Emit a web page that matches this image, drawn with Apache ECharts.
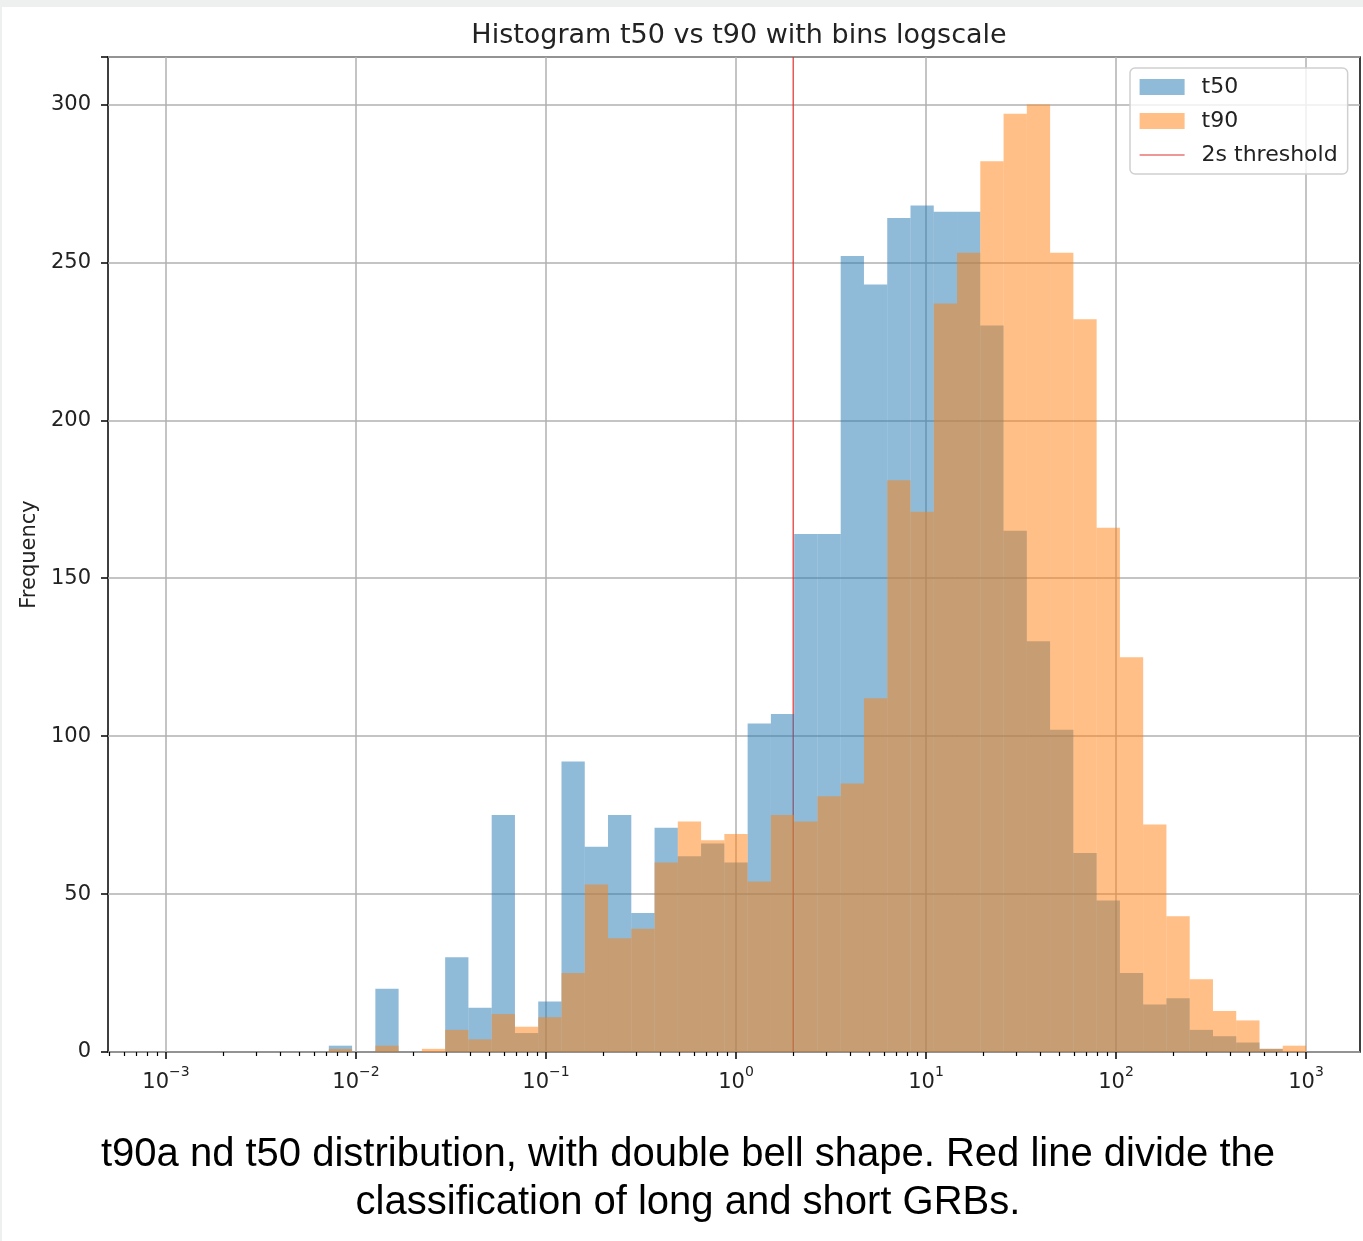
<!DOCTYPE html>
<html>
<head>
<meta charset="utf-8">
<title>Histogram t50 vs t90</title>
<script src="https://cdn.jsdelivr.net/npm/echarts@6/dist/echarts.min.js"></script>
<style>
    html, body { margin: 0; padding: 0; background: #eef0f0; }
    #chart { width: 1363px; height: 1241px; }
</style>
</head>
<body>
<div id="chart"></div>
<script>
// bins = np.logspace(-3, 3, 50) -> 49 bins, kept in log10 space
const binStart = -3;
const binEnd = 3;
const binCount = 49;

// counts per bin (bin 0 .. 48)
const t50Counts = [
    0, 0, 0, 0, 0, 0, 0, 2, 0, 20,
    0, 0, 30, 14, 75, 6, 16, 92, 65, 75,
    44, 71, 62, 66, 60, 104, 107, 164, 164, 252,
    243, 264, 268, 266, 266, 230, 165, 130, 102, 63,
    48, 25, 15, 17, 7, 5, 3, 1, 0
];
const t90Counts = [
    0, 0, 0, 0, 0, 0, 0, 1, 0, 2,
    0, 1, 7, 4, 12, 8, 11, 25, 53, 36,
    39, 60, 73, 67, 69, 54, 75, 73, 81, 85,
    112, 181, 171, 237, 253, 282, 297, 300, 253, 232,
    166, 125, 72, 43, 23, 13, 10, 1, 2
];

const thresholdSeconds = 2;
const xMajorTicks = [-3, -2, -1, 0, 1, 2, 3];
const yTicks = [0, 50, 100, 150, 200, 250, 300];

const xMin = -3.305;
const xMax = 3.284;
const yMax = 315;

const binWidth = (binEnd - binStart) / binCount;

function histData(counts) {
    return counts.map((c, i) => [binStart + i * binWidth, binStart + (i + 1) * binWidth, c]);
}

// minor log ticks: 2..9 x 10^n
const xMinorTicks = [];
for (let n = -4; n <= 3; n++) {
    for (let m = 2; m <= 9; m++) {
        const v = n + Math.log10(m);
        if (v > xMin && v < xMax) xMinorTicks.push(v);
    }
}

function supLabel(v) {
    const e = v < 0 ? '\u2212' + Math.abs(v) : String(v);
    return '{b|10}{s|' + e + '}';
}

function histSeries(name, counts, color) {
    return {
        name,
        type: 'custom',
        xAxisIndex: 0,
        encode: { x: [0, 1], y: 2 },
        data: histData(counts),
        itemStyle: { color, opacity: 0.5 },
        renderItem: (params, api) => {
            if (!api.value(2)) return null;
            const top = api.coord([api.value(0), api.value(2)]);
            const bottom = api.coord([api.value(1), 0]);
            return {
                type: 'rect',
                shape: {
                    x: top[0],
                    y: top[1],
                    width: bottom[0] - top[0],
                    height: bottom[1] - top[1]
                },
                style: { fill: color, opacity: 0.5 }
            };
        }
    };
}

const chart = echarts.init(document.getElementById('chart'), null, { renderer: 'canvas' });

const tickFont = 'DejaVu Sans';
const thresholdX = Math.log10(thresholdSeconds);
const thresholdColor = '#e0312f';

const option = {
    backgroundColor: '#eef0f0',
    animation: false,
    graphic: [
        {
            type: 'rect',
            z: -10,
            shape: { x: 2, y: 7, width: 1361, height: 1234 },
            style: { fill: '#ffffff' }
        },
        {
            type: 'text',
            x: 688,
            y: 1131,
            style: {
                text: 't90a nd t50 distribution, with double bell shape. Red line divide the\nclassification of long and short GRBs.',
                font: '40px "Liberation Sans", Arial, sans-serif',
                fill: '#000',
                align: 'center',
                verticalAlign: 'top',
                lineHeight: 48
            }
        }
    ],
    title: {
        text: 'Histogram t50 vs t90 with bins logscale',
        left: 734,
        textAlign: 'center',
        top: 17,
        textStyle: {
            fontFamily: tickFont,
            fontSize: 27,
            fontWeight: 'normal',
            color: '#222'
        }
    },
    legend: {
        orient: 'vertical',
        left: 1130,
        top: 68,
        padding: [8, 10, 8, 9],
        itemWidth: 45,
        itemHeight: 16,
        itemGap: 12,
        backgroundColor: 'rgba(255,255,255,0.8)',
        borderColor: '#d0d0d0',
        borderWidth: 1.5,
        borderRadius: 5,
        textStyle: {
            fontFamily: tickFont,
            fontSize: 22,
            color: '#222',
            padding: [0, 0, 0, 12]
        },
        data: [
            { name: 't50', icon: 'rect', itemStyle: { color: '#8fbbd9', opacity: 1 } },
            { name: 't90', icon: 'rect', itemStyle: { color: '#ffbf86', opacity: 1 } },
            {
                name: '2s threshold',
                itemStyle: { color: 'rgba(0,0,0,0)', borderColor: 'rgba(0,0,0,0)', opacity: 0 },
                lineStyle: { color: thresholdColor, width: 1.2, opacity: 1 }
            }
        ]
    },
    grid: {
        left: 108,
        right: 3,
        top: 57,
        bottom: 189,
        show: true,
        borderColor: '#000',
        borderWidth: 1.5,
        backgroundColor: 'transparent'
    },
    xAxis: [
        {
            type: 'value',
            min: xMin,
            max: xMax,
            axisLine: { show: false, onZero: false },
            axisTick: {
                show: true,
                customValues: xMajorTicks,
                length: 7,
                lineStyle: { color: '#000', width: 1.5 }
            },
            axisLabel: {
                customValues: xMajorTicks,
                margin: 13,
                formatter: supLabel,
                rich: {
                    b: { fontFamily: tickFont, fontSize: 21, color: '#222', lineHeight: 28, verticalAlign: 'bottom' },
                    s: { fontFamily: tickFont, fontSize: 14, color: '#222', verticalAlign: 'top' }
                }
            },
            splitLine: { show: true, lineStyle: { color: '#b0b0b0', width: 1.5 } }
        },
        {
            type: 'value',
            min: xMin,
            max: xMax,
            position: 'bottom',
            axisLine: { show: false, onZero: false },
            axisLabel: { show: false },
            splitLine: { show: false },
            axisTick: {
                show: true,
                customValues: xMinorTicks,
                length: 4,
                lineStyle: { color: '#000', width: 1.2 }
            }
        }
    ],
    yAxis: {
        type: 'value',
        min: 0,
        max: yMax,
        interval: 50,
        name: 'Frequency',
        nameLocation: 'middle',
        nameGap: 68,
        nameTextStyle: { fontFamily: tickFont, fontSize: 21, color: '#222' },
        axisLine: { show: false, onZero: false },
        axisTick: { show: true, length: 7, lineStyle: { color: '#000', width: 1.5 } },
        axisLabel: {
            margin: 17,
            fontFamily: tickFont,
            fontSize: 21,
            color: '#222',
            formatter: v => (yTicks.includes(v) ? String(v) : '')
        },
        splitLine: { show: true, lineStyle: { color: '#b0b0b0', width: 1.5 } }
    },
    series: [
        {
            name: '2s threshold',
            type: 'line',
            xAxisIndex: 0,
            symbol: 'none',
            data: [[thresholdX, 0], [thresholdX, yMax]],
            lineStyle: { color: thresholdColor, width: 1.2 },
            itemStyle: { color: thresholdColor },
            z: 1
        },
        histSeries('t50', t50Counts, '#1f77b4'),
        histSeries('t90', t90Counts, '#ff7f0e')
    ]
};

chart.setOption(option);
</script>
</body>
</html>
